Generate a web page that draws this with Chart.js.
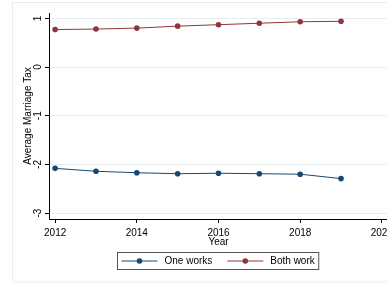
<!DOCTYPE html>
<html>
<head>
<meta charset="utf-8">
<script src="https://cdn.jsdelivr.net/npm/chart.js@4"></script>
<style>
  html, body { margin: 0; padding: 0; background: #fff; overflow: hidden; }
  canvas { display: block; }
</style>
</head>
<body>
<canvas id="myChart" width="400" height="284"></canvas>
<script>
// data
const years = [2012, 2013, 2014, 2015, 2016, 2017, 2018, 2019]
const oneWorks = [-2.08, -2.14, -2.17, -2.19, -2.18, -2.19, -2.20, -2.29]
const bothWork = [0.77, 0.78, 0.80, 0.84, 0.87, 0.90, 0.93, 0.94]
const seriesNames = ['One works', 'Both work']
const xTicks = [2012, 2014, 2016, 2018, 2020]
const yTicks = [-3, -2, -1, 0, 1]

const navy = '#1a476f'
const maroon = '#90353b'
const gridColor = '#e6eeef'
const font = '"Liberation Sans", Arial, sans-serif'

// frame around graph region
const framePlugin = {
    id: 'frame',
    beforeDraw(chart) {
        const c = chart.ctx
        c.save()
        c.strokeStyle = gridColor
        c.lineWidth = 1
        c.strokeRect(12.5, 2.5, 500, 279.5)
        c.restore()
    }
}

// vertical y tick labels (Stata style)
const yLabelPlugin = {
    id: 'yLabels',
    afterDraw(chart) {
        const c = chart.ctx
        const y = chart.scales.y
        c.save()
        c.fillStyle = '#000'
        c.font = '10px ' + font
        c.textAlign = 'center'
        c.textBaseline = 'middle'
        y.ticks.forEach(function(t) {
            const py = y.getPixelForValue(t.value)
            c.save()
            c.translate(38.5, py)
            c.rotate(-Math.PI / 2)
            c.fillText(String(t.value), 0, 0)
            c.restore()
        })
        c.restore()
    }
}

// legend box with line + marker symbols
const legendPlugin = {
    id: 'boxLegend',
    afterDraw(chart) {
        const c = chart.ctx
        c.save()
        c.font = '10px ' + font
        const lineLen = 36, gap = 7, itemGap = 15, padL = 4, padR = 4
        const widths = chart.data.datasets.map(d => c.measureText(d.label).width)
        let total = padL + padR
        widths.forEach((w, i) => { total += lineLen + gap + w + (i > 0 ? itemGap : 0) })
        const cx = 218
        const left = Math.round(cx - total / 2) + 0.5
        const top = 252.5, h = 17
        c.strokeStyle = '#555'
        c.lineWidth = 1
        c.strokeRect(left, top, total, h)
        let x = left + padL
        const my = top + h / 2
        chart.data.datasets.forEach(function(d, i) {
            if (i > 0) x += itemGap
            c.strokeStyle = d.borderColor
            c.lineWidth = 1
            c.beginPath()
            c.moveTo(x, my)
            c.lineTo(x + lineLen, my)
            c.stroke()
            c.fillStyle = d.pointBackgroundColor
            c.beginPath()
            c.arc(x + lineLen / 2, my, 2.8, 0, Math.PI * 2)
            c.fill()
            x += lineLen + gap
            c.fillStyle = '#000'
            c.textAlign = 'left'
            c.textBaseline = 'middle'
            c.fillText(d.label, x, my + 0.5)
            x += widths[i]
        })
        c.restore()
    }
}

const ctx = document.getElementById('myChart').getContext('2d')

const chart = new Chart(ctx, {
    type: 'line',
    data: {
        datasets: [{
            label: seriesNames[0],
            data: years.map((yr, i) => ({ x: yr, y: oneWorks[i] })),
            borderColor: navy,
            backgroundColor: navy,
            pointBackgroundColor: navy,
            pointBorderWidth: 0,
            pointRadius: 2.8,
            borderWidth: 1,
            tension: 0
        }, {
            label: seriesNames[1],
            data: years.map((yr, i) => ({ x: yr, y: bothWork[i] })),
            borderColor: maroon,
            backgroundColor: maroon,
            pointBackgroundColor: maroon,
            pointBorderWidth: 0,
            pointRadius: 2.8,
            borderWidth: 1,
            tension: 0
        }]
    },
    options: {
        responsive: false,
        animation: false,
        devicePixelRatio: 1,
        layout: { padding: { left: 0, right: 12, top: 13, bottom: 34 } },
        plugins: {
            legend: { display: false },
            tooltip: { enabled: false }
        },
        scales: {
            x: {
                type: 'linear',
                min: 2011.85,
                max: 2020.15,
                afterBuildTicks: function(scale) { scale.ticks = xTicks.map(v => ({ value: v })) },
                afterFit: function(scale) { scale.height = 31 },
                ticks: {
                    color: '#000',
                    font: { family: font, size: 10 },
                    padding: 4,
                    maxRotation: 0,
                    callback: v => String(v)
                },
                grid: { drawOnChartArea: false, tickLength: 4, tickColor: '#000' },
                border: { color: '#000', width: 1 },
                title: {
                    display: true,
                    text: 'Year',
                    color: '#000',
                    font: { family: font, size: 10 },
                    padding: { top: 0, bottom: 1.5 }
                }
            },
            y: {
                min: -3.12,
                max: 1.11,
                afterBuildTicks: function(scale) { scale.ticks = yTicks.map(v => ({ value: v })) },
                afterFit: function(scale) { scale.width = 49 },
                ticks: { display: false },
                grid: { color: gridColor, lineWidth: 1, tickLength: 4, tickColor: '#000' },
                border: { color: '#000', width: 1 },
                title: {
                    display: true,
                    text: 'Average Marriage Tax',
                    color: '#000',
                    font: { family: font, size: 10 },
                    padding: { top: 22, bottom: 0 }
                }
            }
        }
    },
    plugins: [framePlugin, yLabelPlugin, legendPlugin]
})
</script>
</body>
</html>
